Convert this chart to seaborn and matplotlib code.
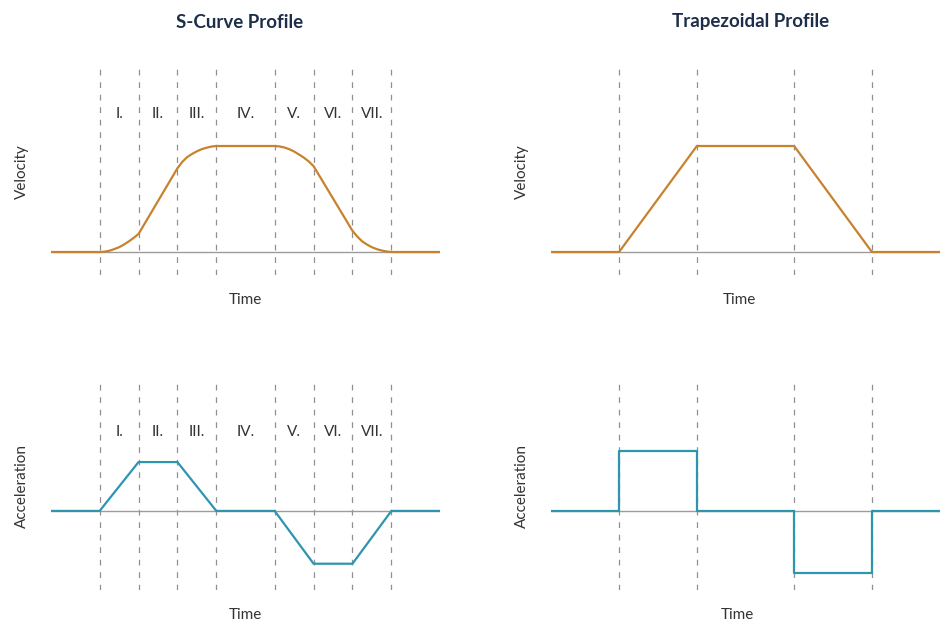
import matplotlib
matplotlib.use("Agg")
import matplotlib.pyplot as plt
import seaborn as sns

sns.set_theme(context='paper', style='white')
plt.rcParams['font.family'] = ['Lato', 'DejaVu Sans']

# phase boundaries (time units)
scurve_edges = [0, 1, 2, 3, 4.5, 5.5, 6.5, 7.5]
trap_edges = [0, 2, 4.5, 6.5]
phase_labels = ['I.', 'II.', 'III.', 'IV.', 'V.', 'VI.', 'VII.']

# S-curve velocity
scurve_time = [-1.25,
               0, 0.125, 0.25, 0.375, 0.5, 0.625, 0.75, 0.875, 1,
               2, 2.125, 2.25, 2.375, 2.5, 2.625, 2.75, 2.875, 3,
               4.5, 4.625, 4.75, 4.875, 5, 5.125, 5.25, 5.375, 5.5,
               6.5, 6.625, 6.75, 6.875, 7, 7.125, 7.25, 7.375, 7.5,
               8.75]
scurve_velocity = [0,
                   0, 0.003, 0.012, 0.027, 0.045, 0.07, 0.10, 0.133, 0.17,
                   0.79, 0.85, 0.895, 0.925, 0.95, 0.97, 0.984, 0.995, 1,
                   1, 0.996, 0.986, 0.97, 0.948, 0.92, 0.89, 0.855, 0.81,
                   0.20, 0.145, 0.10, 0.07, 0.045, 0.027, 0.014, 0.005, 0,
                   0]

# S-curve acceleration
scurve_acc_time = [-1.25, 0, 1, 2, 3, 4.5, 5.5, 6.5, 7.5, 8.75]
scurve_acc = [0, 0, 1, 1, 0, 0, -1.08, -1.08, 0, 0]

# trapezoidal velocity
trap_time = [-1.75, 0, 2, 4.5, 6.5, 8.25]
trap_velocity = [0, 0, 1, 1, 0, 0]

# trapezoidal acceleration (steps)
trap_acc_time = [-1.75, 0, 0, 2, 2, 4.5, 4.5, 6.5, 6.5, 8.25]
trap_acc = [0, 0, 1.22, 1.22, 0, 0, -1.27, -1.27, 0, 0]

ORANGE = '#c8822e'
TEAL = '#2e95ae'
GRID = '#909090'
BASE = '#9c9c9c'
TEXT = '#333333'
NAVY = '#1c2e4a'

fig = plt.figure(figsize=(9.5, 6.42), dpi=100)
W, H = 950, 642


def makeAxes(x0, y0, x1, y1):
    return fig.add_axes([x0 / W, 1 - y1 / H, (x1 - x0) / W, (y1 - y0) / H])


ax_sv = makeAxes(51, 68, 440, 275)
ax_tv = makeAxes(551, 68, 940, 275)
ax_sa = makeAxes(51, 383, 440, 590)
ax_ta = makeAxes(551, 383, 940, 590)


def styleAxes(ax, edges, xlim, ylim, ylabel, xlabel_x=0.5):
    ax.set_xlim(*xlim)
    ax.set_ylim(*ylim)
    for s in ax.spines.values():
        s.set_visible(False)
    ax.set_xticks([])
    ax.set_yticks([])
    ax.set_xlabel('')
    ax.set_ylabel('')
    ax.axhline(0, color=BASE, lw=1.0, zorder=1)
    for e in edges:
        ax.axvline(e, color=GRID, lw=0.9, linestyle=(0, (4.6, 5.4)), zorder=0)
    ax.text(-0.0746, 0.5, ylabel, transform=ax.transAxes, rotation=90,
            ha='center', va='center', fontsize=11, color=TEXT)
    ax.text(xlabel_x, -0.121, 'Time', transform=ax.transAxes,
            ha='center', va='center', fontsize=11, color=TEXT)


def phaseLabels(ax, edges, y_frac):
    for i, lab in enumerate(phase_labels):
        mid = (edges[i] + edges[i + 1]) / 2
        ax.text(mid, y_frac, lab, transform=ax.get_xaxis_transform(),
                ha='center', va='center', fontsize=11, color=TEXT)


sns.lineplot(x=scurve_time, y=scurve_velocity, ax=ax_sv, color=ORANGE,
             lw=1.6, sort=False, estimator=None, zorder=3)
styleAxes(ax_sv, scurve_edges, (-1.25, 8.75), (-0.217, 1.736), 'Velocity')
phaseLabels(ax_sv, scurve_edges, 0.778)

sns.lineplot(x=trap_time, y=trap_velocity, ax=ax_tv, color=ORANGE,
             lw=1.6, sort=False, estimator=None, zorder=3)
styleAxes(ax_tv, trap_edges, (-1.75, 8.25), (-0.217, 1.736), 'Velocity', 0.483)

sns.lineplot(x=scurve_acc_time, y=scurve_acc, ax=ax_sa, color=TEAL,
             lw=1.6, sort=False, estimator=None, zorder=3)
styleAxes(ax_sa, scurve_edges, (-1.25, 8.75), (-1.618, 2.618), 'Acceleration')
phaseLabels(ax_sa, scurve_edges, 0.763)

sns.lineplot(x=trap_acc_time, y=trap_acc, ax=ax_ta, color=TEAL,
             lw=1.6, sort=False, estimator=None, zorder=3)
styleAxes(ax_ta, trap_edges, (-1.75, 8.25), (-1.618, 2.618), 'Acceleration', 0.478)

fig.text(240 / W, 1 - 22 / H, 'S-Curve Profile', ha='center', va='center',
         fontsize=13.5, fontweight='bold', color=NAVY)
fig.text(751 / W, 1 - 22 / H, 'Trapezoidal Profile', ha='center', va='center',
         fontsize=13.5, fontweight='bold', color=NAVY)

fig.savefig('out.png', dpi=100, facecolor='white')
